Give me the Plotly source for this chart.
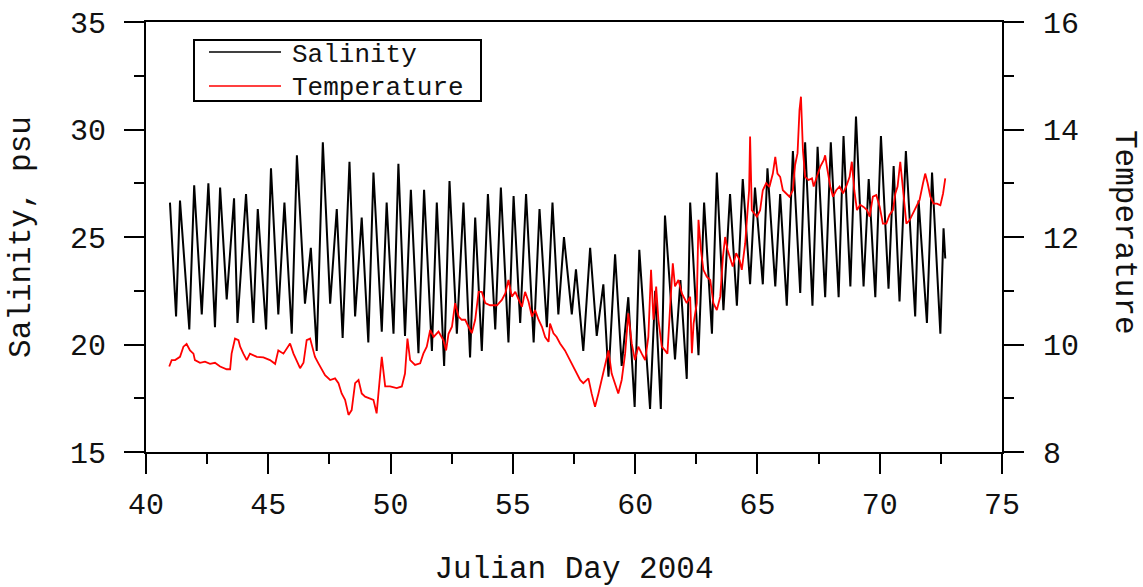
import plotly.graph_objects as go

# ---------------- data ----------------
# Salinity: tidal highs and lows (Julian day, psu)
sal_day = [40.98, 41.23, 41.39, 41.77, 41.97, 42.28, 42.55, 42.82, 43.03, 43.30,
           43.60, 43.74, 44.09, 44.39, 44.57, 44.91, 45.11, 45.41, 45.66, 45.96,
           46.17, 46.50, 46.74, 46.98, 47.23, 47.53, 47.80, 48.04, 48.32, 48.55,
           48.82, 49.09, 49.30, 49.64, 49.84, 50.12, 50.32, 50.59, 50.83, 51.14,
           51.37, 51.69, 51.89, 52.19, 52.41, 52.71, 52.98, 53.25, 53.46, 53.73,
           53.98, 54.28, 54.51, 54.82, 55.03, 55.30, 55.54, 55.85, 56.09, 56.39,
           56.62, 56.86, 57.09, 57.41, 57.58, 57.88, 58.16, 58.43, 58.70, 58.91,
           59.18, 59.45, 59.72, 59.98, 60.17, 60.61, 60.82, 61.05, 61.22, 61.63,
           61.85, 62.11, 62.25, 62.59, 62.82, 63.14, 63.34, 63.61, 63.88, 64.16,
           64.40, 64.70, 64.90, 65.22, 65.41, 65.73, 65.93, 66.20, 66.45, 66.75,
           66.95, 67.25, 67.46, 67.77, 68.00, 68.32, 68.52, 68.80, 69.03, 69.34,
           69.55, 69.82, 70.05, 70.36, 70.57, 70.81, 71.07, 71.45, 71.59, 71.93,
           72.14, 72.48, 72.61, 72.68]
sal_psu = [26.6, 21.3, 26.7, 20.7, 27.4, 21.4, 27.5, 20.8, 27.3, 22.1,
           26.8, 21.0, 27.0, 21.0, 26.3, 20.7, 28.2, 21.4, 26.6, 20.5,
           28.8, 21.9, 24.5, 19.7, 29.4, 21.9, 26.3, 20.3, 28.5, 21.3,
           25.9, 20.1, 28.0, 20.6, 26.6, 20.5, 28.4, 20.4, 27.2, 19.6,
           27.2, 19.7, 26.6, 19.0, 27.6, 20.5, 26.6, 19.4, 25.9, 19.7,
           27.0, 20.7, 27.3, 20.1, 26.9, 21.0, 27.0, 20.1, 26.3, 20.8,
           26.6, 21.4, 25.0, 21.4, 23.5, 19.7, 24.5, 20.4, 22.8, 18.5,
           24.2, 19.0, 22.2, 17.1, 24.4, 17.0, 22.5, 17.0, 26.0, 19.3,
           23.0, 18.4, 26.6, 19.5, 26.6, 20.5, 28.0, 21.6, 27.0, 21.8,
           27.7, 22.8, 27.3, 22.8, 28.2, 22.7, 27.0, 21.8, 29.0, 22.4,
           29.4, 21.8, 29.2, 22.2, 29.4, 22.2, 29.7, 22.7, 30.6, 22.7,
           27.7, 22.2, 29.7, 22.6, 28.3, 22.0, 29.0, 21.3, 26.7, 21.0,
           28.0, 20.5, 25.4, 24.0]

# Temperature (Julian day, deg C)
temp_day = [40.95, 41.05, 41.19, 41.39, 41.53, 41.66, 41.80, 41.94, 42.00, 42.21,
            42.41, 42.62, 42.82, 43.03, 43.30, 43.44, 43.50, 43.64, 43.78, 43.85,
            43.98, 44.12, 44.25, 44.53, 44.80, 45.07, 45.28, 45.41, 45.62, 45.82,
            45.89, 46.03, 46.16, 46.30, 46.44, 46.57, 46.71, 46.84, 46.91, 47.05,
            47.19, 47.32, 47.53, 47.73, 47.87, 48.00, 48.14, 48.28, 48.41, 48.55,
            48.69, 48.82, 48.96, 49.16, 49.30, 49.43, 49.54, 49.64, 49.78, 49.98,
            50.25, 50.46, 50.59, 50.69, 50.80, 51.00, 51.21, 51.34, 51.48, 51.62,
            51.76, 51.96, 52.16, 52.27, 52.37, 52.51, 52.64, 52.78, 52.91, 53.05,
            53.19, 53.32, 53.46, 53.60, 53.73, 53.87, 54.07, 54.35, 54.55, 54.69,
            54.82, 54.96, 55.10, 55.23, 55.37, 55.50, 55.64, 55.78, 55.91, 56.05,
            56.19, 56.32, 56.46, 56.52, 56.66, 56.79, 56.93, 57.13, 57.34, 57.54,
            57.75, 57.88, 58.09, 58.22, 58.36, 58.50, 58.63, 58.77, 58.91, 59.04,
            59.18, 59.31, 59.45, 59.59, 59.72, 59.86, 59.99, 60.13, 60.27, 60.41,
            60.54, 60.65, 60.75, 60.86, 60.95, 61.09, 61.22, 61.32, 61.43, 61.54,
            61.63, 61.77, 61.91, 62.04, 62.11, 62.25, 62.32, 62.39, 62.52, 62.59,
            62.69, 62.79, 62.93, 63.07, 63.20, 63.34, 63.48, 63.59, 63.68, 63.78,
            63.88, 63.99, 64.13, 64.27, 64.36, 64.50, 64.57, 64.66, 64.70, 64.77,
            64.87, 64.98, 65.11, 65.22, 65.36, 65.49, 65.63, 65.73, 65.82, 65.93,
            66.04, 66.18, 66.31, 66.45, 66.54, 66.64, 66.72, 66.78, 66.86, 66.95,
            67.09, 67.23, 67.30, 67.43, 67.57, 67.71, 67.77, 67.84, 67.98, 68.09,
            68.22, 68.36, 68.50, 68.63, 68.77, 68.86, 68.96, 69.07, 69.20, 69.34,
            69.48, 69.59, 69.72, 69.86, 70.00, 70.13, 70.27, 70.40, 70.54, 70.64,
            70.73, 70.84, 70.95, 71.09, 71.22, 71.36, 71.50, 71.63, 71.77, 71.86,
            71.96, 72.07, 72.20, 72.34, 72.48, 72.59, 72.68]
temp_c = [9.59, 9.71, 9.71, 9.77, 9.96, 10.01, 9.89, 9.83, 9.71, 9.66,
          9.68, 9.64, 9.66, 9.59, 9.54, 9.54, 9.83, 10.11, 10.08, 9.96,
          9.83, 9.71, 9.83, 9.77, 9.76, 9.71, 9.64, 9.89, 9.83, 9.99,
          10.02, 9.83, 9.71, 9.56, 9.66, 10.08, 10.11, 9.89, 9.77, 9.65,
          9.53, 9.43, 9.34, 9.37, 9.28, 9.09, 8.97, 8.69, 8.78, 9.28,
          9.34, 9.09, 9.03, 9.00, 8.97, 8.72, 9.22, 9.77, 9.22, 9.22,
          9.19, 9.22, 9.46, 10.11, 9.71, 9.62, 9.65, 9.83, 9.96, 10.27,
          10.14, 10.24, 10.08, 9.89, 10.20, 10.33, 10.77, 10.52, 10.46, 10.46,
          10.33, 10.21, 10.46, 10.98, 10.98, 10.77, 10.73, 10.73, 10.83, 10.95,
          11.20, 10.89, 10.98, 10.83, 10.70, 10.98, 10.80, 10.52, 10.64, 10.46,
          10.33, 10.14, 10.05, 10.39, 10.21, 10.14, 10.02, 9.89, 9.71, 9.53,
          9.34, 9.28, 9.37, 9.09, 8.84, 9.09, 9.34, 9.65, 9.89, 9.46,
          9.28, 9.09, 9.34, 9.83, 10.58, 10.02, 9.71, 9.96, 9.83, 9.71,
          10.14, 11.39, 10.46, 11.08, 10.46, 9.96, 9.89, 9.83, 10.70, 11.51,
          11.08, 11.20, 10.95, 10.83, 10.77, 10.89, 9.84, 10.39, 10.77, 12.32,
          11.76, 11.39, 11.26, 11.20, 10.77, 10.64, 10.89, 11.63, 12.00, 11.76,
          11.63, 11.45, 11.70, 11.57, 11.39, 11.88, 12.32, 12.87, 13.87, 12.50,
          12.44, 12.38, 12.50, 12.87, 13.00, 12.93, 13.18, 13.49, 13.18, 13.12,
          12.87, 12.81, 12.75, 12.87, 13.34, 13.56, 14.36, 14.61, 13.62, 13.12,
          13.06, 13.09, 12.94, 13.12, 13.31, 13.43, 13.52, 13.31, 12.94, 12.75,
          12.87, 12.94, 12.81, 12.94, 13.12, 13.40, 12.87, 12.50, 12.60, 12.56,
          12.50, 12.38, 12.75, 12.78, 12.56, 12.25, 12.25, 12.41, 12.50, 12.81,
          12.94, 13.40, 12.87, 12.25, 12.31, 12.44, 12.56, 12.69, 13.00, 13.18,
          13.00, 12.75, 12.62, 12.62, 12.59, 12.81, 13.09]

series_names = ["Salinity", "Temperature"]
x_ticks = [40, 45, 50, 55, 60, 65, 70, 75]
sal_ticks = [15, 20, 25, 30, 35]
temp_ticks = [8, 10, 12, 14, 16]

# ---------------- figure ----------------
W, H = 1143, 587
L, R, T, B = 146, 1002, 22, 452   # plot area in pixels
FONT = "Liberation Mono"

def px_x(x):
    return (x - L) / (R - L)

def px_y(y):
    return (B - y) / (B - T)

fig = go.Figure()
fig.add_trace(go.Scatter(x=sal_day, y=sal_psu, mode="lines", name=series_names[0],
                         line=dict(color="black", width=2), showlegend=False))
fig.add_trace(go.Scatter(x=temp_day, y=temp_c, mode="lines", name=series_names[1],
                         yaxis="y2", line=dict(color="#ff0000", width=1.8),
                         showlegend=False))

axis_common = dict(showgrid=False, zeroline=False, showline=True, linecolor="black",
                   linewidth=2, ticks="outside", tickcolor="black", tickwidth=2,
                   ticklen=20, automargin=False,
                   tickfont=dict(family=FONT, size=30, color="#111"))

fig.update_layout(
    width=W, height=H,
    margin=dict(l=L, r=W - R, t=T, b=H - B, pad=0, autoexpand=False),
    paper_bgcolor="white", plot_bgcolor="white",
    font=dict(family=FONT, color="#111"),
    xaxis=dict(range=[40, 75], tickvals=x_ticks, mirror=True,
               ticklabelstandoff=4,
               minor=dict(dtick=2.5, tick0=40, ticks="outside", ticklen=10,
                          tickwidth=2, tickcolor="black"),
               title=dict(text="Julian Day 2004", font=dict(family=FONT, size=31),
                          standoff=55),
               **axis_common),
    yaxis=dict(range=[15, 35], tickvals=sal_ticks,
               ticklabelstandoff=12,
               minor=dict(dtick=2.5, tick0=15, ticks="outside", ticklen=10,
                          tickwidth=2, tickcolor="black"),
               title=dict(text="Salinity, psu", font=dict(family=FONT, size=31),
                          standoff=30),
               **axis_common),
    yaxis2=dict(range=[8, 16], tickvals=temp_ticks, overlaying="y", side="right",
                ticklabelstandoff=13,
                minor=dict(dtick=1, tick0=8, ticks="outside", ticklen=10,
                           tickwidth=2, tickcolor="black"),
                **axis_common),
)

# right axis title (reads top-to-bottom as in the reference)
fig.add_annotation(text="Temperature", xref="paper", yref="paper",
                   x=px_x(1125), y=px_y(232), xanchor="center", yanchor="middle",
                   textangle=90, showarrow=False,
                   font=dict(family=FONT, size=31, color="#111"))

# legend box drawn as in the reference
fig.add_shape(type="rect", xref="paper", yref="paper",
              x0=px_x(194), x1=px_x(481), y0=px_y(101), y1=px_y(40),
              line=dict(color="black", width=2), fillcolor="white", layer="above")
for name, color, yc, ytxt in [(series_names[0], "black", 52, 55),
                              (series_names[1], "#ff0000", 86, 88)]:
    fig.add_shape(type="line", xref="paper", yref="paper",
                  x0=px_x(209), x1=px_x(281), y0=px_y(yc), y1=px_y(yc),
                  line=dict(color=color, width=1.6), layer="above")
    fig.add_annotation(text=name, xref="paper", yref="paper",
                       x=px_x(290), y=px_y(ytxt), xanchor="left", yanchor="middle",
                       showarrow=False,
                       font=dict(family=FONT, size=26, color="#111"))

fig.write_html("out.html")
